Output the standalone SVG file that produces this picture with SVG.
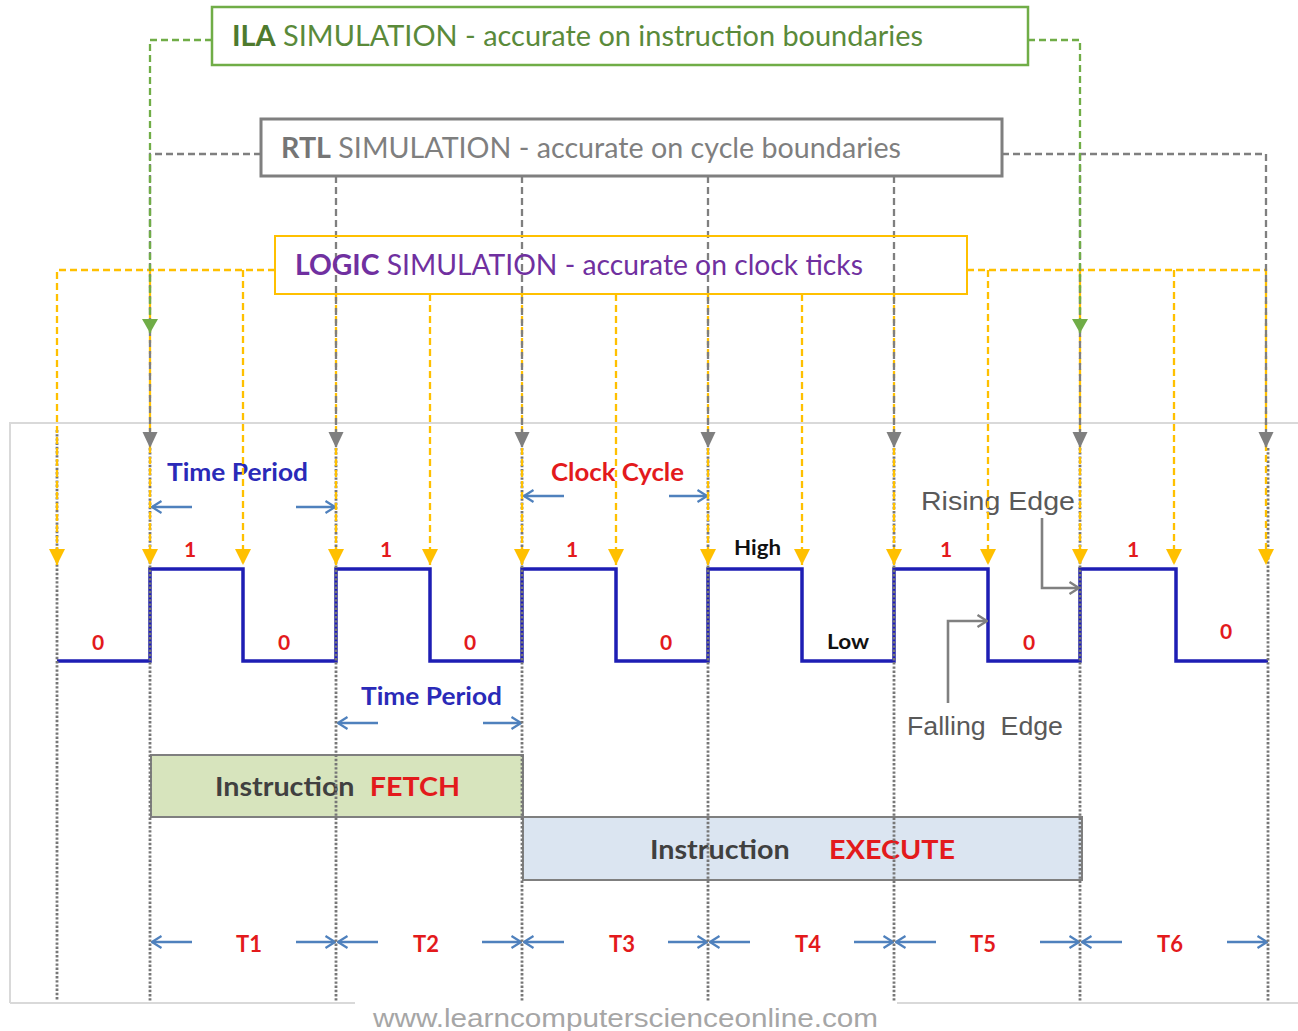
<svg xmlns="http://www.w3.org/2000/svg" width="1298" height="1031" viewBox="0 0 1298 1031">
<style>
.lbl{font-family:Lato,"Open Sans","Liberation Sans",sans-serif}
.box{font-size:28px}
.conn{fill:none;stroke-width:2.3;stroke-dasharray:7 4}
.cg{stroke:#70ad47}
.cy{stroke:#ffc000}
.cr{stroke:#7f7f7f}
.dot{fill:none;stroke:#777777;stroke-width:2.8;stroke-dasharray:2.4 1.8}
.dim{fill:none;stroke:#4f81bd;stroke-width:2.4;marker-end:url(#ob)}
.bold{font-weight:bold}
.red{fill:#e31a1c}
.blue{fill:#2a2ab8}
.wav{fill:none;stroke:#1e1eb4;stroke-width:3.5;stroke-linejoin:miter}
.edge{fill:none;stroke:#808080;stroke-width:2.6;marker-end:url(#og)}
.edgelbl{font-family:"Liberation Sans",Arial,sans-serif;font-size:25px;fill:#595959}
</style>
<defs>
<marker id="ay" markerUnits="userSpaceOnUse" markerWidth="16" markerHeight="16" viewBox="0 0 16 16" refX="16" refY="8" orient="auto"><path d="M0,0 L16,8 L0,16 z" fill="#ffc000"/></marker>
<marker id="ar" markerUnits="userSpaceOnUse" markerWidth="16" markerHeight="16" viewBox="0 0 16 16" refX="16" refY="8" orient="auto"><path d="M0,0.5 L16,8 L0,15.5 z" fill="#7f7f7f"/></marker>
<marker id="agr" markerUnits="userSpaceOnUse" markerWidth="14" markerHeight="16" viewBox="0 0 14 16" refX="14" refY="8" orient="auto"><path d="M0,0 L14,8 L0,16 z" fill="#70ad47"/></marker>
<marker id="ob" markerUnits="userSpaceOnUse" markerWidth="12" markerHeight="14" viewBox="0 0 12 14" refX="11" refY="7" orient="auto"><path d="M1.5,1 L11,7 L1.5,13" fill="none" stroke="#4f81bd" stroke-width="2.2"/></marker>
<marker id="og" markerUnits="userSpaceOnUse" markerWidth="12" markerHeight="14" viewBox="0 0 12 14" refX="11" refY="7" orient="auto"><path d="M1.5,1 L11,7 L1.5,13" fill="none" stroke="#808080" stroke-width="2.4"/></marker>
</defs>
<rect width="1298" height="1031" fill="#ffffff"/>

<!-- timing chart (embedded picture) -->
<g id="timing-chart">
  <path d="M10,1003 V423 H1298" fill="none" stroke="#d9d9d9" stroke-width="2"/>
  <path d="M10,1003 H355 M897,1003 H1298" fill="none" stroke="#d9d9d9" stroke-width="2"/>

  <g id="fetch">
    <rect x="151" y="755" width="372" height="62" fill="#d7e4bd" stroke="#7f7f7f" stroke-width="2"/>
    <text class="lbl bold" x="215" y="796" font-size="26" textLength="245" lengthAdjust="spacingAndGlyphs"><tspan fill="#404040">Instruction</tspan><tspan class="red" dx="14">FETCH</tspan></text>
  </g>
  <g id="execute">
    <rect x="523" y="817" width="559" height="63" fill="#dbe5f1" stroke="#7f7f7f" stroke-width="2"/>
    <text class="lbl bold" x="650" y="859" font-size="26" textLength="305" lengthAdjust="spacingAndGlyphs"><tspan fill="#404040">Instruction</tspan><tspan class="red" dx="36">EXECUTE</tspan></text>
  </g>

  <path class="wav" d="M57,661 H150 V569 H243 V661 H336 V569 H430 V661 H522 V569 H616 V661 H708 V569 H802 V661 H894 V569 H988 V661 H1080 V569 H1176 V661 H1268"/>

  <g class="lbl bold" font-size="21">
    <text class="red" x="190" y="557" text-anchor="middle">1</text>
    <text class="red" x="386" y="557" text-anchor="middle">1</text>
    <text class="red" x="572" y="557" text-anchor="middle">1</text>
    <text class="red" x="946" y="557" text-anchor="middle">1</text>
    <text class="red" x="1133" y="557" text-anchor="middle">1</text>
    <text class="red" x="98" y="650" text-anchor="middle">0</text>
    <text class="red" x="284" y="650" text-anchor="middle">0</text>
    <text class="red" x="470" y="650" text-anchor="middle">0</text>
    <text class="red" x="666" y="650" text-anchor="middle">0</text>
    <text class="red" x="1029" y="650" text-anchor="middle">0</text>
    <text class="red" x="1226" y="639" text-anchor="middle">0</text>
    <text x="734" y="555" fill="#111111" textLength="47" lengthAdjust="spacingAndGlyphs">High</text>
    <text x="827" y="649" fill="#111111" textLength="42" lengthAdjust="spacingAndGlyphs">Low</text>
  </g>

  <g class="lbl bold" font-size="24">
    <text class="blue" x="167" y="481" textLength="141" lengthAdjust="spacingAndGlyphs">Time Period</text>
    <text class="red" x="551" y="481" textLength="133" lengthAdjust="spacingAndGlyphs">Clock Cycle</text>
    <text class="blue" x="361" y="705" textLength="141" lengthAdjust="spacingAndGlyphs">Time Period</text>
  </g>
  <g class="lbl bold red" font-size="22" text-anchor="middle">
    <text x="249" y="952">T1</text>
    <text x="426" y="952">T2</text>
    <text x="622" y="952">T3</text>
    <text x="808" y="952">T4</text>
    <text x="983" y="952">T5</text>
    <text x="1170" y="952">T6</text>
  </g>

  <g id="dims">
    <path class="dim" d="M192,507 H152"/><path class="dim" d="M296,507 H335"/>
    <path class="dim" d="M564,496 H524"/><path class="dim" d="M669,496 H707"/>
    <path class="dim" d="M378,723 H338"/><path class="dim" d="M483,723 H521"/>
    <path class="dim" d="M192,942 H152"/><path class="dim" d="M296,942 H335"/>
    <path class="dim" d="M378,942 H338"/><path class="dim" d="M482,942 H521"/>
    <path class="dim" d="M564,942 H524"/><path class="dim" d="M668,942 H707"/>
    <path class="dim" d="M750,942 H710"/><path class="dim" d="M854,942 H893"/>
    <path class="dim" d="M936,942 H896"/><path class="dim" d="M1040,942 H1079"/>
    <path class="dim" d="M1122,942 H1082"/><path class="dim" d="M1227,942 H1267"/>
  </g>

  <text class="edgelbl" x="921" y="510" textLength="154" lengthAdjust="spacingAndGlyphs">Rising Edge</text>
  <path class="edge" d="M1042,518 V588 H1079"/>
  <text class="edgelbl" x="907" y="735" textLength="156" lengthAdjust="spacingAndGlyphs" xml:space="preserve">Falling  Edge</text>
  <path class="edge" d="M948,703 V621 H987"/>

  <path class="dot" d="M57,430 V1001 M150,448 V1001 M336,448 V1001 M522,448 V1001 M708,448 V1001 M894,448 V1001 M1080,448 V1001 M1268,448 V1001"/>

  <text x="373" y="1027" font-family="'Liberation Sans',Arial,sans-serif" font-size="26" fill="#a6a6a6" textLength="505" lengthAdjust="spacingAndGlyphs">www.learncomputerscienceonline.com</text>
</g>

<!-- connectors -->
<g id="connectors">
  <g class="conn cy">
    <path d="M275,270 H57 V565" marker-end="url(#ay)"/>
    <path d="M150,270 V565" marker-end="url(#ay)"/>
    <path d="M243,270 V565" marker-end="url(#ay)"/>
    <path d="M336,294 V565" marker-end="url(#ay)"/>
    <path d="M430,294 V565" marker-end="url(#ay)"/>
    <path d="M522,294 V565" marker-end="url(#ay)"/>
    <path d="M616,294 V565" marker-end="url(#ay)"/>
    <path d="M708,294 V565" marker-end="url(#ay)"/>
    <path d="M802,294 V565" marker-end="url(#ay)"/>
    <path d="M894,294 V565" marker-end="url(#ay)"/>
    <path d="M967,270 H1266 V565" marker-end="url(#ay)"/>
    <path d="M988,270 V565" marker-end="url(#ay)"/>
    <path d="M1080,270 V565" marker-end="url(#ay)"/>
    <path d="M1174,270 V565" marker-end="url(#ay)"/>
  </g>
  <g class="conn cr">
    <path d="M261,154 H150 V448" marker-end="url(#ar)"/>
    <path d="M336,176 V448" marker-end="url(#ar)"/>
    <path d="M522,176 V448" marker-end="url(#ar)"/>
    <path d="M708,176 V448" marker-end="url(#ar)"/>
    <path d="M894,176 V448" marker-end="url(#ar)"/>
    <path d="M1002,154 H1266 V448" marker-end="url(#ar)"/>
    <path d="M1080,154 V448" marker-end="url(#ar)"/>
  </g>
  <g class="conn cg">
    <path d="M212,40 H150 V333" marker-end="url(#agr)"/>
    <path d="M1028,40 H1080 V333" marker-end="url(#agr)"/>
  </g>
</g>

<!-- nodes -->
<g id="ila-box">
  <rect x="212" y="7" width="816" height="58" fill="#ffffff" stroke="#70ad47" stroke-width="2.5"/>
  <text class="lbl box" x="232" y="46" textLength="691" lengthAdjust="spacingAndGlyphs" fill="#5a8a3a"><tspan font-weight="bold" fill="#4e7a2e">ILA</tspan> SIMULATION - accurate on instruction boundaries</text>
</g>
<g id="rtl-box">
  <rect x="261" y="119" width="741" height="57" fill="#ffffff" stroke="#7f7f7f" stroke-width="3"/>
  <text class="lbl box" x="281" y="158" textLength="620" lengthAdjust="spacingAndGlyphs" fill="#7f7f7f"><tspan font-weight="bold" fill="#757575">RTL</tspan> SIMULATION - accurate on cycle boundaries</text>
</g>
<g id="logic-box">
  <rect x="275" y="236" width="692" height="58" fill="none" stroke="#ffc000" stroke-width="2"/>
  <text class="lbl box" x="295" y="275" textLength="568" lengthAdjust="spacingAndGlyphs" fill="#7030a0"><tspan font-weight="bold">LOGIC</tspan> SIMULATION - accurate on clock ticks</text>
</g>
</svg>
